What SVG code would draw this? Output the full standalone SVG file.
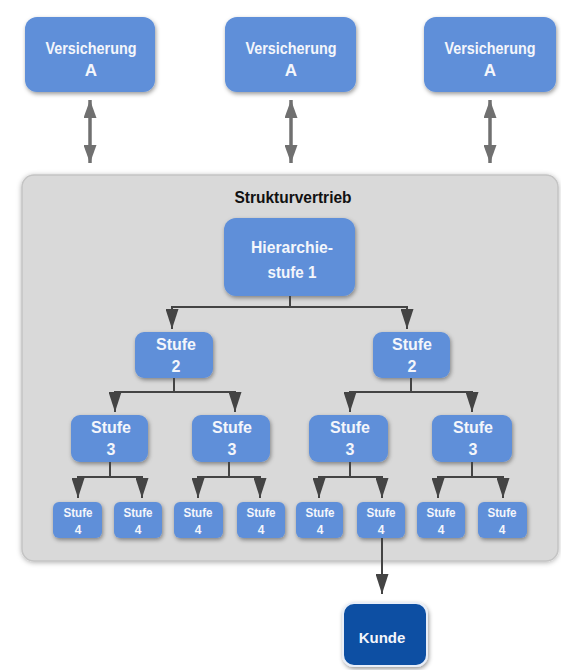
<svg xmlns="http://www.w3.org/2000/svg" width="561" height="670" viewBox="0 0 561 670">
<defs>
<filter id="sh" x="-20%" y="-20%" width="140%" height="150%"><feDropShadow dx="1" dy="2" stdDeviation="2.2" flood-color="#000" flood-opacity="0.4"/></filter>
<filter id="shc" x="-5%" y="-5%" width="110%" height="110%"><feDropShadow dx="0" dy="1" stdDeviation="2.5" flood-color="#000" flood-opacity="0.3"/></filter>
<marker id="ah" viewBox="0 0 20 13" refX="20" refY="6.5" markerWidth="20" markerHeight="13" markerUnits="userSpaceOnUse" orient="auto-start-reverse"><path d="M0,0 L20,6.5 L0,13 z" fill="#444"/></marker>
<marker id="ah2" viewBox="0 0 18 13" refX="18" refY="6.5" markerWidth="18" markerHeight="13" markerUnits="userSpaceOnUse" orient="auto-start-reverse"><path d="M0,0 L18,6.5 L0,13 z" fill="#707070"/></marker>
<style>
.b{fill:#5f8fd9;filter:url(#sh)}
.t{font-family:"Liberation Sans",Arial,sans-serif;fill:#f4f6fb;text-anchor:middle;font-weight:bold}
.t1{font-size:17px}
.t3{font-size:16px}
.t4{font-size:12px}
.c{fill:none;stroke:#444;stroke-width:2}
.d{fill:none;stroke:#707070;stroke-width:3.5}
</style>
</defs>
<rect width="561" height="670" fill="#ffffff"/>
<g id="container">
<rect x="22" y="175" width="536" height="386" rx="12" fill="#d9d9d9" stroke="#c4c4c4" stroke-width="1.5" filter="url(#shc)"/>
<text x="293" y="203" font-family="'Liberation Sans',Arial,sans-serif" font-size="16" font-weight="bold" fill="#111" text-anchor="middle" textLength="117" lengthAdjust="spacingAndGlyphs">Strukturvertrieb</text>
</g>
<g id="versA1"><rect class="b" x="25" y="17" width="130" height="75" rx="12"/><text class="t t1" x="91" y="54" textLength="91" lengthAdjust="spacingAndGlyphs">Versicherung</text><text class="t t1" x="91" y="76">A</text></g>
<g id="versA2"><rect class="b" x="225" y="17" width="131" height="75" rx="12"/><text class="t t1" x="291" y="54" textLength="91" lengthAdjust="spacingAndGlyphs">Versicherung</text><text class="t t1" x="291" y="76">A</text></g>
<g id="versA3"><rect class="b" x="424" y="17" width="132" height="75" rx="12"/><text class="t t1" x="490" y="54" textLength="91" lengthAdjust="spacingAndGlyphs">Versicherung</text><text class="t t1" x="490" y="76">A</text></g>
<g id="hier1"><rect class="b" x="224" y="218" width="131" height="78" rx="12"/><text class="t t1" x="292" y="253" textLength="82" lengthAdjust="spacingAndGlyphs">Hierarchie-</text><text class="t t1" x="292" y="278" textLength="49" lengthAdjust="spacingAndGlyphs">stufe 1</text></g>
<g id="s2a"><rect class="b" x="135" y="332" width="78" height="46" rx="9"/><text class="t t3" x="176" y="350">Stufe</text><text class="t t3" x="176" y="372">2</text></g>
<g id="s2b"><rect class="b" x="373" y="332" width="77" height="46" rx="9"/><text class="t t3" x="412" y="350">Stufe</text><text class="t t3" x="412" y="372">2</text></g>
<g id="s3a"><rect class="b" x="71" y="415" width="77" height="47" rx="9"/><text class="t t3" x="111" y="433">Stufe</text><text class="t t3" x="111" y="455">3</text></g>
<g id="s3b"><rect class="b" x="192" y="415" width="78" height="47" rx="9"/><text class="t t3" x="232" y="433">Stufe</text><text class="t t3" x="232" y="455">3</text></g>
<g id="s3c"><rect class="b" x="309" y="415" width="79" height="47" rx="9"/><text class="t t3" x="350" y="433">Stufe</text><text class="t t3" x="350" y="455">3</text></g>
<g id="s3d"><rect class="b" x="432" y="415" width="80" height="47" rx="9"/><text class="t t3" x="473" y="433">Stufe</text><text class="t t3" x="473" y="455">3</text></g>
<g id="s4a"><rect class="b" x="53" y="502" width="49" height="36" rx="6"/><text class="t t4" x="78" y="517" textLength="29" lengthAdjust="spacingAndGlyphs">Stufe</text><text class="t t4" x="78" y="534">4</text></g>
<g id="s4b"><rect class="b" x="114" y="502" width="48" height="36" rx="6"/><text class="t t4" x="138" y="517" textLength="29" lengthAdjust="spacingAndGlyphs">Stufe</text><text class="t t4" x="138" y="534">4</text></g>
<g id="s4c"><rect class="b" x="174" y="502" width="49" height="36" rx="6"/><text class="t t4" x="198" y="517" textLength="29" lengthAdjust="spacingAndGlyphs">Stufe</text><text class="t t4" x="198" y="534">4</text></g>
<g id="s4d"><rect class="b" x="237" y="502" width="48" height="36" rx="6"/><text class="t t4" x="261" y="517" textLength="29" lengthAdjust="spacingAndGlyphs">Stufe</text><text class="t t4" x="261" y="534">4</text></g>
<g id="s4e"><rect class="b" x="296" y="502" width="47" height="36" rx="6"/><text class="t t4" x="320" y="517" textLength="29" lengthAdjust="spacingAndGlyphs">Stufe</text><text class="t t4" x="320" y="534">4</text></g>
<g id="s4f"><rect class="b" x="357" y="502" width="48" height="36" rx="6"/><text class="t t4" x="381" y="517" textLength="29" lengthAdjust="spacingAndGlyphs">Stufe</text><text class="t t4" x="381" y="534">4</text></g>
<g id="s4g"><rect class="b" x="417" y="502" width="48" height="36" rx="6"/><text class="t t4" x="441" y="517" textLength="29" lengthAdjust="spacingAndGlyphs">Stufe</text><text class="t t4" x="441" y="534">4</text></g>
<g id="s4h"><rect class="b" x="478" y="502" width="49" height="36" rx="6"/><text class="t t4" x="502" y="517" textLength="29" lengthAdjust="spacingAndGlyphs">Stufe</text><text class="t t4" x="502" y="534">4</text></g>
<g id="kunde"><rect x="343" y="603" width="84" height="63" rx="11" fill="#0b4fa3" stroke="#e8eef8" stroke-width="2" filter="url(#sh)"/><text class="t" font-size="15" x="382" y="643">Kunde</text></g>
<g id="connectors">
<path class="d" d="M90,100 V163" marker-start="url(#ah2)" marker-end="url(#ah2)"/>
<path class="d" d="M291,100 V163" marker-start="url(#ah2)" marker-end="url(#ah2)"/>
<path class="d" d="M490,100 V163" marker-start="url(#ah2)" marker-end="url(#ah2)"/>
<path class="c" d="M290,296 V307"/>
<path class="c" d="M172,329 V307 H407 V329" marker-start="url(#ah)" marker-end="url(#ah)"/>
<path class="c" d="M174,378 V392"/>
<path class="c" d="M115,412 V392 H235 V412" marker-start="url(#ah)" marker-end="url(#ah)"/>
<path class="c" d="M411,378 V392"/>
<path class="c" d="M350,412 V392 H472 V412" marker-start="url(#ah)" marker-end="url(#ah)"/>
<path class="c" d="M110,462 V477"/>
<path class="c" d="M78,498 V477 H142 V498" marker-start="url(#ah)" marker-end="url(#ah)"/>
<path class="c" d="M229,462 V477"/>
<path class="c" d="M198,498 V477 H260 V498" marker-start="url(#ah)" marker-end="url(#ah)"/>
<path class="c" d="M350,462 V477"/>
<path class="c" d="M319,498 V477 H382 V498" marker-start="url(#ah)" marker-end="url(#ah)"/>
<path class="c" d="M472,462 V477"/>
<path class="c" d="M438,498 V477 H503 V498" marker-start="url(#ah)" marker-end="url(#ah)"/>
<path class="c" d="M382,538 V594" marker-end="url(#ah)"/>
</g>
</svg>
